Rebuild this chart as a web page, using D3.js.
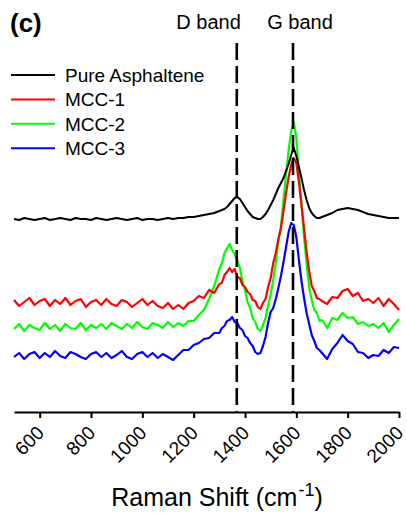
<!DOCTYPE html>
<html>
<head>
<meta charset="utf-8">
<script src="https://cdn.jsdelivr.net/npm/d3@7"></script>
<style>
  body { margin: 0; background: #fff; }
  svg { display: block; font-family: "Liberation Sans", Arial, sans-serif; }
</style>
</head>
<body>
<div id="chart"></div>
<script>
// Raman shift (cm-1)
const shift = [500, 520, 540, 560, 580, 600, 620, 640, 660, 680, 700, 720, 740, 760, 780, 800, 820, 840, 860, 880,
  900, 920, 940, 960, 980, 1000, 1020, 1040, 1060, 1080, 1100, 1120, 1140, 1160, 1180, 1200, 1220, 1240, 1260, 1280, 1300,
  1310, 1320, 1330, 1340, 1350, 1360, 1370, 1380, 1390, 1400, 1410, 1420, 1430, 1440, 1450, 1460, 1470, 1480, 1490, 1500,
  1510, 1520, 1530, 1540, 1550, 1560, 1570, 1580, 1590, 1600, 1610, 1620, 1630, 1640, 1650, 1660, 1670, 1680, 1690, 1700,
  1720, 1740, 1760, 1780, 1800, 1820, 1840, 1860, 1880, 1900, 1920, 1940, 1960, 1980, 2000];

// intensities (a.u., stacked with offsets as in the figure)
const pureAsphaltene = [193, 192, 194, 193, 192, 193, 194, 192, 193, 194, 193, 192, 194, 193, 193, 192, 194, 193, 192, 193,
  194, 193, 192, 193, 194, 192, 193, 193, 192, 193, 194, 193, 194, 194, 195, 195, 196, 197, 198, 199, 201,
  202, 203, 205, 208, 211, 214, 215, 213, 209, 205, 201, 198, 195, 194, 193, 193, 195, 198, 202, 207,
  212, 218, 224, 229, 234, 241, 248, 257, 264, 256, 245, 234, 222, 212, 204, 199, 196, 194, 194, 195,
  197, 199, 202, 203, 204, 203, 202, 200, 198, 197, 196, 195, 194, 194, 194];
const mcc1 = [112, 106, 110, 114, 107, 111, 113, 106, 112, 108, 114, 107, 111, 113, 105, 110, 112, 107, 113, 108,
  106, 112, 110, 105, 109, 113, 107, 111, 106, 104, 109, 103, 107, 103, 109, 111, 116, 114, 122, 119, 128,
  129, 137, 140, 144, 140, 143, 135, 134, 127, 125, 120, 118, 112, 111, 105, 103, 109, 113, 125, 134,
  149, 159, 173, 184, 201, 219, 235, 247, 254, 249, 230, 207, 184, 160, 141, 126, 121, 114, 113, 111,
  108, 115, 114, 121, 123, 116, 119, 111, 113, 109, 114, 106, 113, 108, 102];
const mcc2 = [83, 88, 81, 87, 84, 82, 89, 83, 87, 81, 88, 84, 83, 89, 82, 87, 84, 88, 83, 89,
  86, 83, 88, 84, 90, 85, 83, 89, 87, 84, 90, 85, 89, 86, 91, 91, 97, 102, 113, 126, 143,
  149, 159, 164, 168, 162, 158, 151, 144, 131, 122, 110, 104, 94, 90, 83, 81, 87, 94, 107, 117,
  132, 149, 171, 185, 212, 238, 262, 281, 290, 274, 240, 208, 175, 148, 125, 112, 102, 99, 91, 92,
  84, 94, 92, 99, 94, 95, 88, 90, 86, 88, 84, 89, 80, 87, 93];
const mcc3 = [55, 59, 53, 58, 60, 54, 59, 55, 61, 56, 54, 60, 58, 55, 53, 58, 60, 55, 59, 54,
  57, 61, 55, 53, 58, 60, 55, 59, 54, 58, 55, 52, 57, 62, 62, 67, 69, 73, 74, 79, 79,
  84, 86, 91, 92, 95, 90, 89, 84, 82, 76, 74, 69, 66, 60, 58, 59, 66, 75, 89, 100,
  104, 113, 124, 136, 150, 165, 180, 189, 187, 175, 152, 131, 114, 99, 88, 77, 71, 64, 62, 59,
  53, 63, 69, 77, 71, 68, 60, 59, 54, 57, 56, 62, 59, 65, 64];

const seriesNames = ["Pure Asphaltene", "MCC-1", "MCC-2", "MCC-3"];
const seriesColors = ["#000000", "#ff0000", "#00ff00", "#0000ff"];
const seriesValues = [pureAsphaltene, mcc1, mcc2, mcc3];

const xTicks = [600, 800, 1000, 1200, 1400, 1600, 1800, 2000];
const bands = [{ label: "D band", pos: 1368 }, { label: "G band", pos: 1587 }];

const width = 407, height = 513;

const svg = d3.select("#chart").append("svg")
  .attr("width", width)
  .attr("height", height);

const x = d3.scaleLinear().domain([500, 2000]).range([14, 399]);
const y = d3.scaleLinear().domain([0, 370]).range([412, 42]);

// curves
const line = d3.line()
  .x((d, i) => x(shift[i]))
  .y(d => y(d));

const drawOrder = [2, 1, 3, 0];
drawOrder.forEach(k => {
  svg.append("path")
    .datum(seriesValues[k])
    .attr("d", line)
    .attr("fill", "none")
    .attr("stroke", seriesColors[k])
    .attr("stroke-width", k === 0 ? 2 : 2.2)
    .attr("stroke-linejoin", "round");
});

// dashed band markers
bands.forEach((b, i) => {
  svg.append("line")
    .attr("x1", x(b.pos)).attr("x2", x(b.pos))
    .attr("y1", 43).attr("y2", 412)
    .attr("stroke", "#000")
    .attr("stroke-width", 2.6)
    .attr("stroke-dasharray", "17,6");
  svg.append("text")
    .attr("x", i === 0 ? x(b.pos) + 4 : x(b.pos) + 7)
    .attr("y", 29)
    .attr("text-anchor", i === 0 ? "end" : "middle")
    .style("font-size", "20px")
    .text(b.label);
});

// x axis
const axis = svg.append("g")
  .attr("transform", "translate(0,412)")
  .call(d3.axisBottom(x).tickValues(xTicks).tickSize(6).tickSizeOuter(0).tickFormat(d3.format("d")));
axis.select(".domain").attr("stroke", "#000").attr("stroke-width", 2);
axis.selectAll(".tick line").attr("stroke", "#000").attr("stroke-width", 2);
axis.selectAll(".tick text")
  .attr("x", 0).attr("y", 0).attr("dy", 0)
  .attr("text-anchor", "end")
  .attr("transform", "translate(5,22) rotate(-45)")
  .style("font-size", "19px")
  .style("font-family", "'Liberation Sans', Arial, sans-serif")
  .attr("fill", "#000");

// axis title
const title = svg.append("text")
  .attr("x", 217)
  .attr("y", 506)
  .attr("text-anchor", "middle")
  .style("font-size", "25px");
title.append("tspan").text("Raman Shift (cm");
title.append("tspan").attr("dy", -10).attr("dx", 1).style("font-size", "18px").text("-1");
title.append("tspan").attr("dy", 10).text(")");

// panel label
svg.append("text")
  .attr("x", 10)
  .attr("y", 32)
  .style("font-size", "26px")
  .style("font-weight", "bold")
  .text("(c)");

// legend
const legend = svg.append("g");
seriesNames.forEach((name, i) => {
  const ly = 75 + i * 24.4;
  legend.append("line")
    .attr("x1", 11).attr("x2", 55)
    .attr("y1", ly).attr("y2", ly)
    .attr("stroke", seriesColors[i])
    .attr("stroke-width", 2);
  legend.append("text")
    .attr("x", 65)
    .attr("y", ly + 7)
    .style("font-size", "19px")
    .text(name);
});
</script>
</body>
</html>
